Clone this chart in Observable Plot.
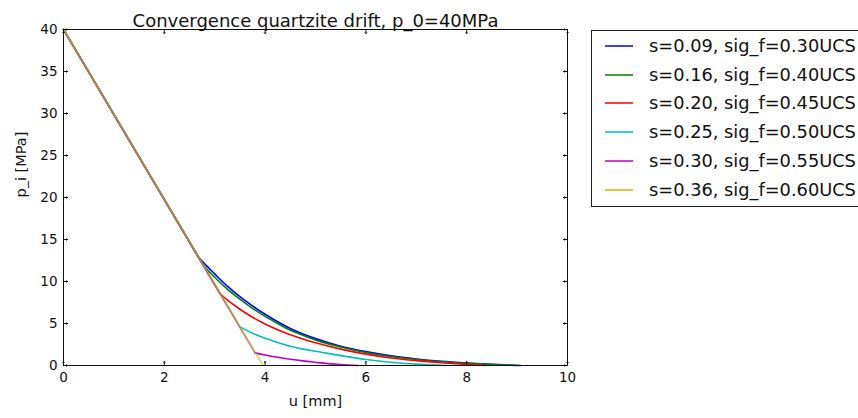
<!DOCTYPE html>
<html>
<head>
<meta charset="utf-8">
<script src="https://cdn.jsdelivr.net/npm/d3@7"></script>
<script src="https://cdn.jsdelivr.net/npm/@observablehq/plot@0.6"></script>
<style>
  html, body { margin: 0; padding: 0; background: #fff; overflow: hidden; }
  #wrap { position: relative; width: 858px; height: 418px; font-family: "DejaVu Sans", sans-serif; }
  #legend { position: absolute; left: 591px; top: 30px; width: 290px; height: 177px; border: 1px solid #222; box-sizing: border-box; background: #fff; }
  .item { position: absolute; left: 0; height: 20px; }
  .swatch { position: absolute; left: 13px; width: 28px; height: 2px; opacity: 0.75; }
  .lab { position: absolute; left: 57px; white-space: nowrap; font-size: 17.8px; color: #111; line-height: 20px; }
</style>
</head>
<body>
<div id="wrap"></div>
<script>
// ---- data ----
const title = "Convergence quartzite drift, p_0=40MPa";
const xLabel = "u [mm]";
const yLabel = "p_i [MPa]";
const xTicks = [0, 2, 4, 6, 8, 10];
const yTicks = [0, 5, 10, 15, 20, 25, 30, 35, 40];

const seriesNames = [
  "s=0.09, sig_f=0.30UCS",
  "s=0.16, sig_f=0.40UCS",
  "s=0.20, sig_f=0.45UCS",
  "s=0.25, sig_f=0.50UCS",
  "s=0.30, sig_f=0.55UCS",
  "s=0.36, sig_f=0.60UCS"
];
const seriesColors = ["#0000ff", "#008000", "#ff0000", "#00bfbf", "#bf00bf", "#bfbf00"];

// first point: p_0; second point: end of the elastic (straight) branch
const u1 = [0, 2.68, 2.85, 3.0, 3.25, 3.5, 3.75, 4.0, 4.25, 4.5, 4.75, 5.0, 5.5, 6.0, 6.5, 7.0, 7.5, 8.0, 8.5, 9.07];
const p1 = [40, 12.9, 11.8, 10.9, 9.45, 8.2, 7.1, 6.1, 5.2, 4.4, 3.75, 3.2, 2.3, 1.65, 1.15, 0.78, 0.5, 0.3, 0.14, 0];

const u2 = [0, 2.78, 2.9, 3.0, 3.25, 3.5, 3.75, 4.0, 4.25, 4.5, 4.75, 5.0, 5.5, 6.0, 6.5, 7.0, 7.5, 8.0, 8.5, 9.0];
const p2 = [40, 11.9, 11.1, 10.5, 9.1, 7.9, 6.8, 5.85, 5.0, 4.2, 3.6, 3.05, 2.2, 1.55, 1.08, 0.72, 0.45, 0.26, 0.11, 0];

const u3 = [0, 3.10, 3.25, 3.5, 3.75, 4.0, 4.25, 4.5, 4.75, 5.0, 5.5, 6.0, 6.5, 7.0, 7.5, 8.0, 8.37];
const p3 = [40, 8.6, 7.8, 6.7, 5.75, 4.95, 4.25, 3.65, 3.15, 2.7, 1.95, 1.35, 0.9, 0.58, 0.33, 0.13, 0];

const u4 = [0, 3.5, 3.75, 4.0, 4.25, 4.5, 4.75, 5.0, 5.5, 6.0, 6.5, 7.0, 7.6];
const p4 = [40, 4.6, 3.85, 3.25, 2.75, 2.3, 1.95, 1.7, 1.18, 0.72, 0.38, 0.16, 0];

const u5 = [0, 3.8, 4.0, 4.25, 4.5, 4.75, 5.0, 5.25, 5.5, 5.85];
const p5 = [40, 1.5, 1.25, 0.98, 0.75, 0.55, 0.38, 0.22, 0.1, 0];

const u6 = [0, 3.96];
const p6 = [40, 0];

// ---- build tables: straight elastic branch + curved plastic branch ----
const us = [u1, u2, u3, u4, u5, u6];
const ps = [p1, p2, p3, p4, p5, p6];
const elastic = [];
const plastic = [];
us.forEach((u, i) => u.forEach((x, j) => {
  const r = {series: seriesNames[i], u: x, p: ps[i][j]};
  if (j <= 1) elastic.push(r);
  if (j >= 1 && u.length > 2) plastic.push(r);
}));

const font = "DejaVu Sans";
const marks = [];
seriesNames.forEach((name, i) => {
  marks.push(Plot.line(elastic.filter(r => r.series === name), {x: "u", y: "p", stroke: seriesColors[i], strokeWidth: 1.7, strokeOpacity: 0.6}));
  const pl = plastic.filter(r => r.series === name);
  if (pl.length) marks.push(Plot.line(pl, {x: "u", y: "p", stroke: seriesColors[i], strokeWidth: 1.6, curve: "monotone-x"}));
});

const chart = Plot.plot({
  width: 858,
  height: 418,
  marginLeft: 63,
  marginRight: 291,
  marginTop: 29,
  marginBottom: 53,
  style: {fontFamily: font, fontSize: "13.5px", color: "#111", background: "#fff"},
  x: {domain: [0, 10], ticks: xTicks, tickSize: 0, tickPadding: 7, label: null, tickFormat: d => String(d)},
  y: {domain: [0, 40], ticks: yTicks, tickSize: 0, tickPadding: 6, label: null, tickFormat: d => String(d)},
  marks: [
    ...marks,
    Plot.frame({stroke: "#111", strokeWidth: 1}),
    Plot.vector(xTicks, {x: d => d, y: 0, length: 4, rotate: 0, anchor: "start", stroke: "#111", strokeWidth: 1}),
    Plot.vector(xTicks, {x: d => d, y: 40, length: 4, rotate: 180, anchor: "start", stroke: "#111", strokeWidth: 1}),
    Plot.vector(yTicks, {x: 0, y: d => d, length: 4, rotate: 90, anchor: "start", stroke: "#111", strokeWidth: 1}),
    Plot.vector(yTicks, {x: 10, y: d => d, length: 4, rotate: 270, anchor: "start", stroke: "#111", strokeWidth: 1}),
    Plot.text([title], {frameAnchor: "top", dy: -15, fontSize: 18, fill: "#111"}),
    Plot.text([xLabel], {frameAnchor: "bottom", dy: 40, fontSize: 14.5, fill: "#111"}),
    Plot.text([yLabel], {frameAnchor: "left", dx: -42, rotate: -90, fontSize: 14.5, fill: "#111"})
  ]
});

const wrap = document.getElementById("wrap");
wrap.appendChild(chart);
const leg = document.createElement("div");
leg.id = "legend";
seriesNames.forEach((name, i) => {
  const it = document.createElement("div");
  it.className = "item";
  it.style.top = (5 + i * 28.7) + "px";
  const sw = document.createElement("div");
  sw.className = "swatch";
  sw.style.background = seriesColors[i];
  sw.style.top = "9px";
  const lb = document.createElement("div");
  lb.className = "lab";
  lb.textContent = name;
  it.appendChild(sw);
  it.appendChild(lb);
  leg.appendChild(it);
});
wrap.appendChild(leg);
</script>
</body>
</html>
